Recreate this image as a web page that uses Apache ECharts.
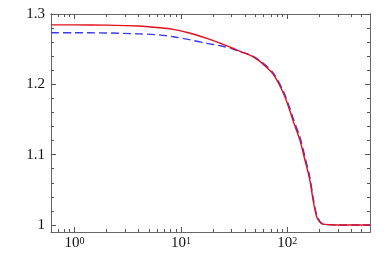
<!DOCTYPE html>
<html><head><meta charset="utf-8">
<script src="https://cdn.jsdelivr.net/npm/echarts@6/dist/echarts.min.js"></script>
<style>html,body{margin:0;padding:0;background:#fff}#c{width:390px;height:261px}</style>
</head><body><div id="c"></div>
<script>
var redX = [0.6, 1, 2, 4, 6, 8.5, 12, 17.5, 24, 30, 36, 45, 52, 60, 74, 92, 106, 114, 131.5, 146.6, 163, 175, 189, 200, 210, 230, 252, 300, 600];
var redY = [1.2845, 1.2845, 1.2842, 1.2830, 1.2808, 1.2782, 1.2730, 1.2654, 1.2580, 1.2520, 1.2468, 1.2410, 1.2355, 1.2280, 1.2140, 1.1872, 1.1620, 1.1470, 1.1207, 1.0922, 1.0638, 1.0353, 1.0115, 1.0050, 1.0020, 1.0008, 1.0004, 1.0, 1.0];
var blueX = [0.6, 1, 2, 4, 6, 8.5, 12, 17.5, 24, 30, 36, 45, 52, 60, 74, 92, 106, 114, 131.5, 146.6, 163, 175, 189, 200, 210, 230, 252, 300, 600];
var blueY = [1.2734, 1.2734, 1.2730, 1.2718, 1.2705, 1.2677, 1.2635, 1.2583, 1.2545, 1.2510, 1.2465, 1.2418, 1.2365, 1.2295, 1.2160, 1.1900, 1.1655, 1.1510, 1.1250, 1.0970, 1.0680, 1.0390, 1.0140, 1.0065, 1.0025, 1.0009, 1.0004, 1.0, 1.0];
var xMajor = [1, 10, 100];
var xMinor = [0.7, 0.8, 0.9, 2, 3, 4, 5, 6, 7, 8, 9, 20, 30, 40, 50, 60, 70, 80, 90, 200, 300, 400, 500];
var yMajor = [1, 1.1, 1.2, 1.3];
var yMinor = [1.02, 1.04, 1.06, 1.08, 1.12, 1.14, 1.16, 1.18, 1.22, 1.24, 1.26, 1.28];
var xMin = 0.6, xMax = 600, yMin = 0.99, yMax = 1.3;

function zip(a, b) { return a.map(function (v, i) { return [v, b[i]]; }); }
var axisColor = '#666';
var tickColor = '#555';
var font = 'Times New Roman, Liberation Serif, serif';
function lg(a) { return a.map(function (v) { return Math.log10(v); }); }

var xMain = {
  type: 'log', logBase: 10, min: xMin, max: xMax, position: 'bottom',
  axisLine: { show: true, onZero: false, lineStyle: { color: axisColor, width: 1 } },
  axisTick: { show: false },
  axisLabel: {
    show: true, customValues: xMajor, margin: 4,
    formatter: function (v) { return '{b|10}{s|' + Math.round(Math.log10(v)) + '}'; },
    rich: {
      b: { fontFamily: font, fontSize: 15, color: '#111' },
      s: { fontFamily: font, fontSize: 10, color: '#111', verticalAlign: 'top', padding: [0, 0, 5, 0] }
    }
  },
  splitLine: { show: false }, minorTick: { show: false }
};
function xTick(pos, ticks, len) {
  var t = lg(ticks);
  return {
    type: 'value', min: Math.log10(xMin), max: Math.log10(xMax), position: pos,
    axisLine: { show: pos === 'top', onZero: false, lineStyle: { color: axisColor, width: 1 } },
    axisTick: { show: true, inside: true, length: len, customValues: t, lineStyle: { color: tickColor, width: 1 } },
    axisLabel: { show: true, customValues: t, formatter: function () { return ''; } },
    splitLine: { show: false }
  };
}
function yAx(pos, ticks, len, labels) {
  return {
    type: 'value', min: yMin, max: yMax, position: pos,
    axisLine: { show: true, onZero: false, lineStyle: { color: axisColor, width: 1 } },
    axisTick: { show: true, inside: true, length: len, customValues: ticks, lineStyle: { color: tickColor, width: 1 } },
    axisLabel: labels ? {
      show: true, customValues: ticks, margin: 6, fontFamily: font, fontSize: 15, color: '#111',
      formatter: function (v) { return Math.abs(v - 1) < 1e-9 ? '1' : v.toFixed(1); }
    } : { show: true, customValues: ticks, formatter: function () { return ''; } },
    splitLine: { show: false }
  };
}

var chart = echarts.init(document.getElementById('c'), null, { renderer: 'canvas' });
chart.setOption({
  animation: false,
  backgroundColor: '#fff',
  grid: { left: 51, right: 20, top: 14, bottom: 29, containLabel: false },
  xAxis: [xMain, xTick('bottom', xMajor, 5), xTick('bottom', xMinor, 3), xTick('top', xMajor, 5), xTick('top', xMinor, 3)],
  yAxis: [yAx('left', yMajor, 5, true), yAx('left', yMinor, 3, false), yAx('right', yMajor, 5, false), yAx('right', yMinor, 3, false)],
  series: [
    { type: 'line', xAxisIndex: 0, yAxisIndex: 0, data: zip(blueX, blueY), showSymbol: false, smooth: 0.3,
      lineStyle: { color: '#3b3bf0', width: 1.4, type: [8, 4] } },
    { type: 'line', xAxisIndex: 0, yAxisIndex: 0, data: zip(redX, redY), showSymbol: false, smooth: 0.3,
      lineStyle: { color: '#e0101c', width: 1.4 } }
  ]
});
</script></body></html>
